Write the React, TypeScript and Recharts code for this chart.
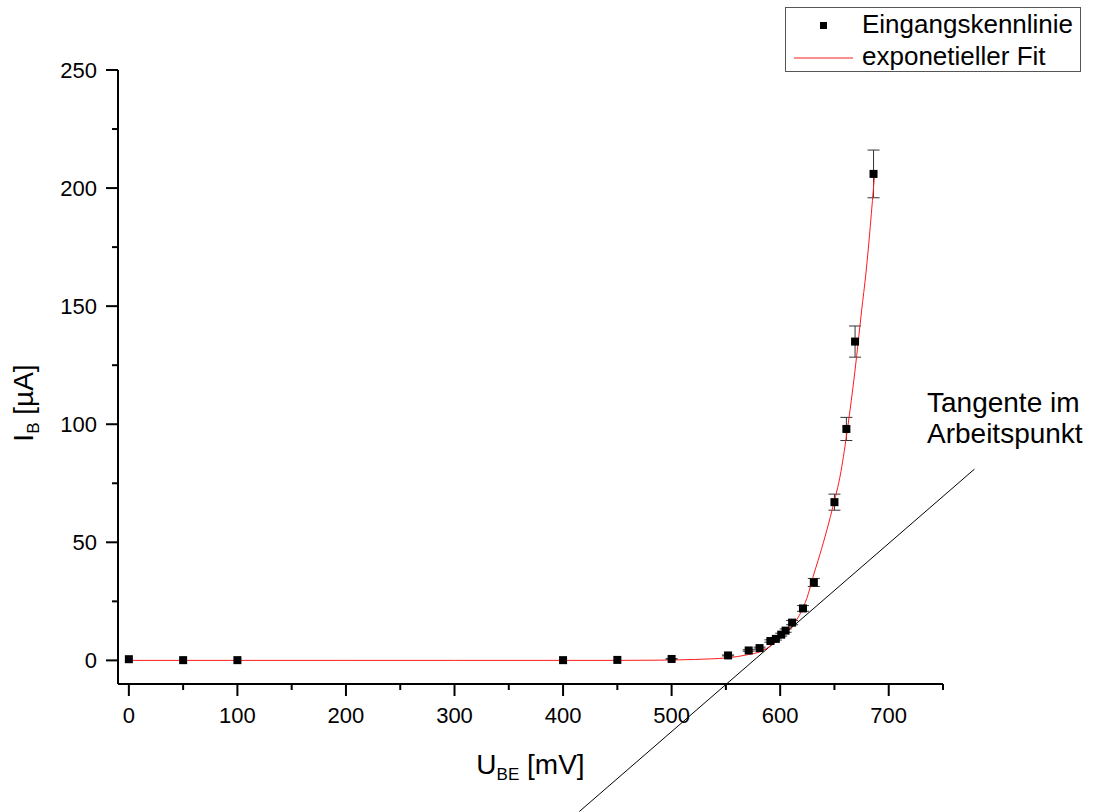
import {
  ComposedChart,
  XAxis,
  YAxis,
  Scatter,
  Line,
  ErrorBar,
  ReferenceLine,
  Legend,
  Label,
} from "recharts";

// Eingangskennlinie eines Transistors: I_B über U_BE mit exp. Fit und Tangente

const FONT = '"Liberation Sans", Arial, Helvetica, sans-serif';

// Messpunkte
const uBE = [0, 50, 100, 400, 450, 500, 552, 571, 581, 591, 596, 601, 605, 611, 621, 631, 650, 661, 669, 686];
const iB = [0.5, 0.1, 0.1, 0.1, 0.2, 0.6, 2.1, 4.2, 5.2, 8.2, 9.1, 10.9, 12.6, 16, 22, 33, 67, 98, 135, 206];
const iBErr = [0, 0, 0, 0, 0, 0.1, 0.2, 0.3, 0.4, 0.5, 0.5, 0.6, 0.7, 0.9, 1.2, 1.7, 3.4, 4.9, 6.6, 10.1];

// exponentieller Fit
const fitU = [0, 100, 200, 300, 400, 450, 490, 521, 552, 570, 583, 592, 601, 610, 620, 626, 630, 635, 648, 656, 662, 669, 675, 679, 687];
const fitI = [0, 0, 0, 0, 0, 0, 0.1, 0.4, 1.1, 2.4, 3.9, 6.4, 9.6, 14.1, 21.2, 28.3, 35, 42.4, 64, 80, 98, 123, 148, 164, 206];

// Tangente im Arbeitspunkt (Endpunkte)
const tangU = [415, 779];
const tangI = [-64, 81];

const xTicks = [0, 50, 100, 150, 200, 250, 300, 350, 400, 450, 500, 550, 600, 650, 700, 750];
const yTicks = [0, 25, 50, 75, 100, 125, 150, 175, 200, 225, 250];

const messData = uBE.map((u, i) => ({ x: u, y: iB[i], err: iBErr[i] }));
const fitData = fitU.map((u, i) => ({ x: u, y: fitI[i] }));

function XTick({ x, y, payload }: any) {
  const v = payload.value;
  const major = v % 100 === 0 && v <= 700;
  return (
    <g>
      <line x1={x} y1={y} x2={x} y2={y + (major ? 12 : 6)} stroke="#000" strokeWidth={2} />
      {major && (
        <text x={x} y={y + 39} textAnchor="middle" fontFamily={FONT} fontSize={22} fill="#000">
          {v}
        </text>
      )}
    </g>
  );
}

function YTick({ x, y, payload }: any) {
  const v = payload.value;
  const major = v % 50 === 0;
  return (
    <g>
      <line x1={x} y1={y} x2={x - (major ? 12 : 6)} y2={y} stroke="#000" strokeWidth={2} />
      {major && (
        <text x={x - 21} y={y + 8} textAnchor="end" fontFamily={FONT} fontSize={22} fill="#000">
          {v}
        </text>
      )}
    </g>
  );
}

function XTitle({ viewBox }: any) {
  const cx = viewBox.x + viewBox.width / 2;
  const by = viewBox.y + 90;
  return (
    <text x={cx} y={by} textAnchor="middle" fontFamily={FONT} fontSize={28} fill="#000">
      U
      <tspan fontSize={17} dy={6}>BE</tspan>
      <tspan dy={-6}> [mV]</tspan>
    </text>
  );
}

function YTitle({ viewBox }: any) {
  const bx = viewBox.x - 25;
  const cy = viewBox.y + viewBox.height / 2 + 26;
  return (
    <text
      x={bx}
      y={cy}
      transform={`rotate(-90, ${bx}, ${cy})`}
      textAnchor="middle"
      fontFamily={FONT}
      fontSize={28}
      fill="#000"
    >
      I
      <tspan fontSize={17} dy={6}>B</tspan>
      <tspan dy={-6}> [µA]</tspan>
    </text>
  );
}

function Square(props: any) {
  const { cx, cy } = props;
  return <rect x={cx - 4} y={cy - 4} width={8} height={8} fill="#000" />;
}

function LegendBox({ payload }: any) {
  const items = payload ?? [];
  return (
    <div
      style={{
        position: "relative",
        boxSizing: "border-box",
        width: 296,
        height: 65,
        border: "1px solid #555",
        background: "#fff",
        fontFamily: FONT,
        fontSize: 26,
        color: "#000",
      }}
    >
      {items.map((e: any, i: number) => (
        <div key={e.value} style={{ position: "absolute", left: 0, top: i * 32, width: 294, height: 32 }}>
          <svg width={76} height={32} style={{ position: "absolute", left: 0, top: 0 }}>
            {e.type === "line" ? (
              <line x1={8} y1={18} x2={67} y2={18} stroke={e.color} strokeWidth={1} />
            ) : (
              <rect x={34} y={14} width={7} height={7} fill="#000" />
            )}
          </svg>
          <div style={{ position: "absolute", left: 76, top: 0, lineHeight: "32px", whiteSpace: "nowrap" }}>
            {e.value}
          </div>
        </div>
      ))}
    </div>
  );
}

export default function App() {
  return (
    <div style={{ position: "absolute", left: 0, top: 0, width: 1101, height: 812, background: "#fff" }}>
      <ComposedChart width={1101} height={812} margin={{ top: 70, right: 158, bottom: 68, left: 58 }}>
        <XAxis
          dataKey="x"
          type="number"
          domain={[-10, 750]}
          ticks={xTicks}
          interval={0}
          tickSize={0}
          tickMargin={0}
          tickLine={false}
          tick={<XTick />}
          axisLine={{ stroke: "#000", strokeWidth: 2 }}
          height={60}
        >
          <Label content={<XTitle />} />
        </XAxis>
        <YAxis
          dataKey="y"
          type="number"
          domain={[-10, 250]}
          ticks={yTicks}
          interval={0}
          tickSize={0}
          tickMargin={0}
          tickLine={false}
          tick={<YTick />}
          axisLine={{ stroke: "#000", strokeWidth: 2 }}
          width={60}
        >
          <Label content={<YTitle />} />
        </YAxis>

        <ReferenceLine
          segment={[
            { x: tangU[0], y: tangI[0] },
            { x: tangU[1], y: tangI[1] },
          ]}
          ifOverflow="visible"
          stroke="#000"
          strokeWidth={1}
        />

        <Scatter
          name="Eingangskennlinie"
          data={messData}
          dataKey="y"
          fill="#000"
          legendType="square"
          shape={<Square />}
          isAnimationActive={false}
        >
          <ErrorBar dataKey="err" direction="y" width={6} stroke="#333" strokeWidth={1} />
        </Scatter>

        <Line
          name="exponetieller Fit"
          data={fitData}
          dataKey="y"
          type="monotone"
          stroke="#ff1a1a"
          strokeWidth={1}
          dot={false}
          activeDot={false}
          legendType="line"
          isAnimationActive={false}
        />

        <Legend
          layout="horizontal"
          verticalAlign="middle"
          align="center"
          content={<LegendBox />}
          wrapperStyle={{ left: 785, top: 7, width: 296, height: 65 }}
        />
      </ComposedChart>

      <div
        style={{
          position: "absolute",
          left: 927,
          top: 387,
          fontFamily: FONT,
          fontSize: 28,
          lineHeight: "31px",
          color: "#000",
          whiteSpace: "nowrap",
        }}
      >
        Tangente im
        <br />
        Arbeitspunkt
      </div>
    </div>
  );
}
